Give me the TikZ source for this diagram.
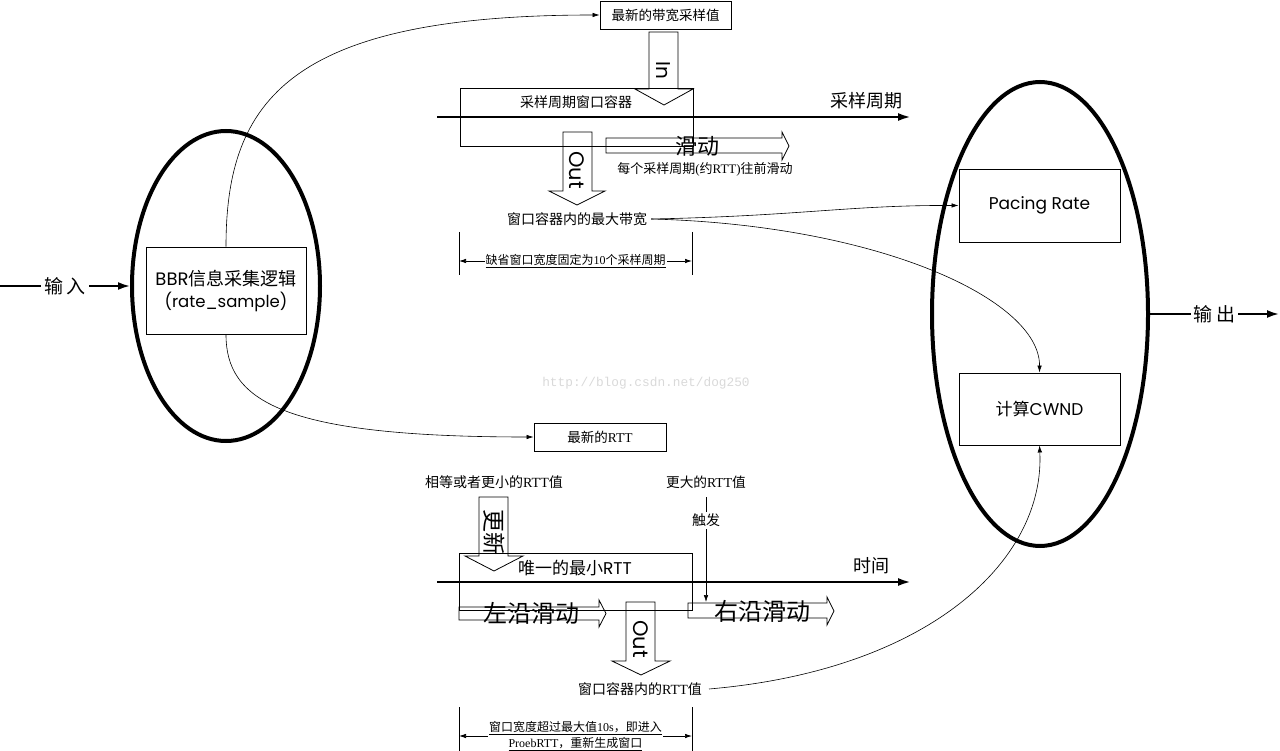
\documentclass[tikz,border=0pt]{standalone}
\usepackage{fontspec}
\setmainfont{Liberation Serif}
\newfontfamily\cjk{Noto Sans CJK SC}
\newfontfamily\gothic{Poppins}
\newfontfamily\monof{Liberation Mono}
\usetikzlibrary{arrows.meta,shapes.geometric}
\newcommand\fsz[1]{\fontsize{#1}{#1}\selectfont}
\newcommand\zh[1]{{\cjk #1}}
\tikzset{
  thinbox/.style={draw, line width=0.9pt, inner sep=0pt},
  conn/.style={line width=0.6pt, -{Latex[length=7pt,width=4.5pt]}},
  dimarr/.style={line width=0.7pt, {Latex[length=7pt,width=4.5pt]}-{Latex[length=7pt,width=4.5pt]}},
  tick/.style={line width=0.7pt},
  blockarrow/.style={draw, line width=0.8pt, line join=miter},
  axisline/.style={line width=2.4pt, -{Latex[length=13pt,width=8pt]}},
  bigell/.style={draw, ellipse, line width=4pt, inner sep=0pt},
  ioline/.style={line width=2pt, -{Latex[length=12pt,width=8pt]}},
  lbl/.style={inner sep=0pt},
}
\begin{document}
\begin{tikzpicture}[x=1pt,y=-1pt]
\useasboundingbox (0,0) rectangle (1280,751);

% watermark
\node[lbl, text=gray!30] (wm) at (646,383) {\monof\fsz{12.8}http://blog.csdn.net/dog250};

% ---------- left ellipse ----------
\node[bigell, minimum width=188pt, minimum height=310pt] (inell) at (226,286) {};
\node[thinbox, minimum width=160pt, minimum height=87pt, align=center,
      font=\fontsize{18}{22}\selectfont] (bbr) at (226,290.5)
  {{\gothic BBR}\zh{信息采集逻辑}\\{\gothic\fontsize{16.5}{22}\selectfont (rate\_sample)}};
\coordinate (inL) at (0,286);
\draw[ioline] (inL) -- node[fill=white, inner sep=3pt] (inlbl) {\fsz{19}\zh{输\,入}} (inell.west);

% ---------- right ellipse ----------
\node[bigell, minimum width=216pt, minimum height=464pt] (outell) at (1040,314) {};
\node[thinbox, minimum width=161pt, minimum height=73pt] (pacing) at (1039.5,205.5) {\fsz{17}\gothic Pacing Rate};
\node[thinbox, minimum width=161pt, minimum height=72pt] (cwnd) at (1039.5,409) {\fsz{17}\zh{计算}{\gothic CWND}};
\coordinate (outR) at (1279,314);
\draw[ioline] (outell.east) -- node[fill=white, inner sep=3pt] (outlbl) {\fsz{19}\zh{输\,出}} (outR);

% ---------- top: bandwidth ----------
\node[thinbox, minimum width=131pt, minimum height=28pt] (bwbox) at (665.5,15) {\fsz{13.5}\zh{最新的带宽采样值}};
\draw[conn] (bbr.north) .. controls (226,100) and (290,15) .. (bwbox.west);

\node[thinbox, minimum width=233pt, minimum height=58pt] (winA) at (576.5,117) {};
\node[lbl] (winAlbl) at (576,102) {\fsz{14}\zh{采样周期窗口容器}};
\coordinate (axAs) at (437,117);
\coordinate (axAe) at (911,117);
\draw[axisline] (axAs) -- (axAe);
\node[lbl] (axAlbl) at (866,101) {\fsz{18}\zh{采样周期}};

% In arrow
\draw[blockarrow] (649,32) -- (678,32) -- (678,89) -- (693,89) -- (664,105) -- (635,89) -- (649,89) -- cycle;
\node[lbl, rotate=-90] (inarr) at (663.5,70) {\fsz{20}\gothic In};

% slide arrow
\draw[blockarrow] (606,138) -- (782,138) -- (782,132) -- (789,146) -- (782,160) -- (782,153) -- (606,153) -- cycle;
\node[lbl] (slide) at (697,146) {\fsz{22}\zh{滑动}};
\node[lbl] (slidenote) at (705,169) {\fsz{13}\zh{每个采样周期}(\zh{约}RTT)\zh{往前滑动}};

% Out arrow top
\draw[blockarrow] (563,132) -- (592,132) -- (592,191) -- (605,191) -- (577,205) -- (549,191) -- (563,191) -- cycle;
\node[lbl, rotate=-90] (outA) at (577,170) {\fsz{21}\gothic Out};

\node[lbl] (maxbw) at (577,219) {\fsz{14}\zh{窗口容器内的最大带宽}};
\draw[conn] ([xshift=4pt]maxbw.east) .. controls (800,216) and (850,205) .. (pacing.west);
\draw[conn] ([xshift=4pt]maxbw.east) .. controls (880,225) and (1040,300) .. (cwnd.north);

% dimension top
\coordinate (dAt1) at (459,232); \coordinate (dAb1) at (459,275);
\coordinate (dAt2) at (692,232); \coordinate (dAb2) at (692,275);
\draw[tick] (dAt1) -- (dAb1);
\draw[tick] (dAt2) -- (dAb2);
\coordinate (dAl) at (459,261); \coordinate (dAr) at (692,261);
\draw[dimarr] (dAl) -- node[fill=white, inner sep=1pt] (dAtxt) {\fsz{12}\underline{\zh{缺省窗口宽度固定为}10\zh{个采样周期}}} (dAr);

% ---------- bottom: RTT ----------
\node[thinbox, minimum width=132pt, minimum height=28pt] (rttbox) at (600,437) {\fsz{13.5}\zh{最新的}RTT};
\draw[conn] (bbr.south) .. controls (226,400) and (280,437) .. (rttbox.west);

\node[lbl] (eqsmall) at (494,482) {\fsz{14}\zh{相等或者更小的}RTT\zh{值}};
\node[lbl] (bigger) at (706,482) {\fsz{13.7}\zh{更大的}RTT\zh{值}};

\coordinate (trigS) at (706,497);
\coordinate (trigE) at (706,602);
\draw[conn] (trigS) -- node[pos=0.22, fill=white, inner sep=2pt] (trig) {\fsz{14}\zh{触发}} (trigE);

\node[thinbox, minimum width=233pt, minimum height=57pt] (winB) at (575.5,581.5) {};

% update arrow
\draw[blockarrow] (479,497) -- (508,497) -- (508,556) -- (523,556) -- (494,571) -- (465,556) -- (479,556) -- cycle;
\node[lbl, rotate=-90] (upd) at (494,532) {\fsz{23}\zh{更新}};

\node[lbl] (minrtt) at (575,568) {\fsz{17}\zh{唯一的最小}{\gothic RTT}};
\coordinate (axBs) at (437,582);
\coordinate (axBe) at (911,582);
\draw[axisline] (axBs) -- (axBe);
\node[lbl] (axBlbl) at (871,566) {\fsz{18}\zh{时间}};

% left-edge slide
\draw[blockarrow] (459,607) -- (599,607) -- (599,600) -- (606,613.5) -- (599,627) -- (599,620) -- (459,620) -- cycle;
\node[lbl] (lslide) at (531,613) {\fsz{24}\zh{左沿滑动}};
% right-edge slide
\draw[blockarrow] (688,603) -- (827,603) -- (827,597) -- (834,611) -- (827,625) -- (827,618) -- (688,618) -- cycle;
\node[lbl] (rslide) at (762,611) {\fsz{24}\zh{右沿滑动}};

% Out arrow bottom
\draw[blockarrow] (626,602) -- (655,602) -- (655,661) -- (670,661) -- (641,675) -- (612,661) -- (626,661) -- cycle;
\node[lbl, rotate=-90] (outB) at (641,639) {\fsz{21}\gothic Out};

\node[lbl] (rttval) at (640,689) {\fsz{14}\zh{窗口容器内的}RTT\zh{值}};
\draw[conn] ([xshift=7pt]rttval.east) .. controls (930,670) and (1045,560) .. (cwnd.south);

% dimension bottom
\coordinate (dBt1) at (459,707); \coordinate (dBb1) at (459,751);
\coordinate (dBt2) at (692,707); \coordinate (dBb2) at (692,751);
\draw[tick] (dBt1) -- (dBb1);
\draw[tick] (dBt2) -- (dBb2);
\coordinate (dBl) at (459,736); \coordinate (dBr) at (692,736);
\draw[dimarr] (dBl) -- node[fill=white, inner sep=1pt, align=center,
      font=\fontsize{12}{16}\selectfont] (dBtxt)
  {\underline{\zh{窗口宽度超过最大值}10s\zh{，即进入}}\\\underline{ProebRTT\zh{，重新生成窗口}}} (dBr);
\end{tikzpicture}
\end{document}
